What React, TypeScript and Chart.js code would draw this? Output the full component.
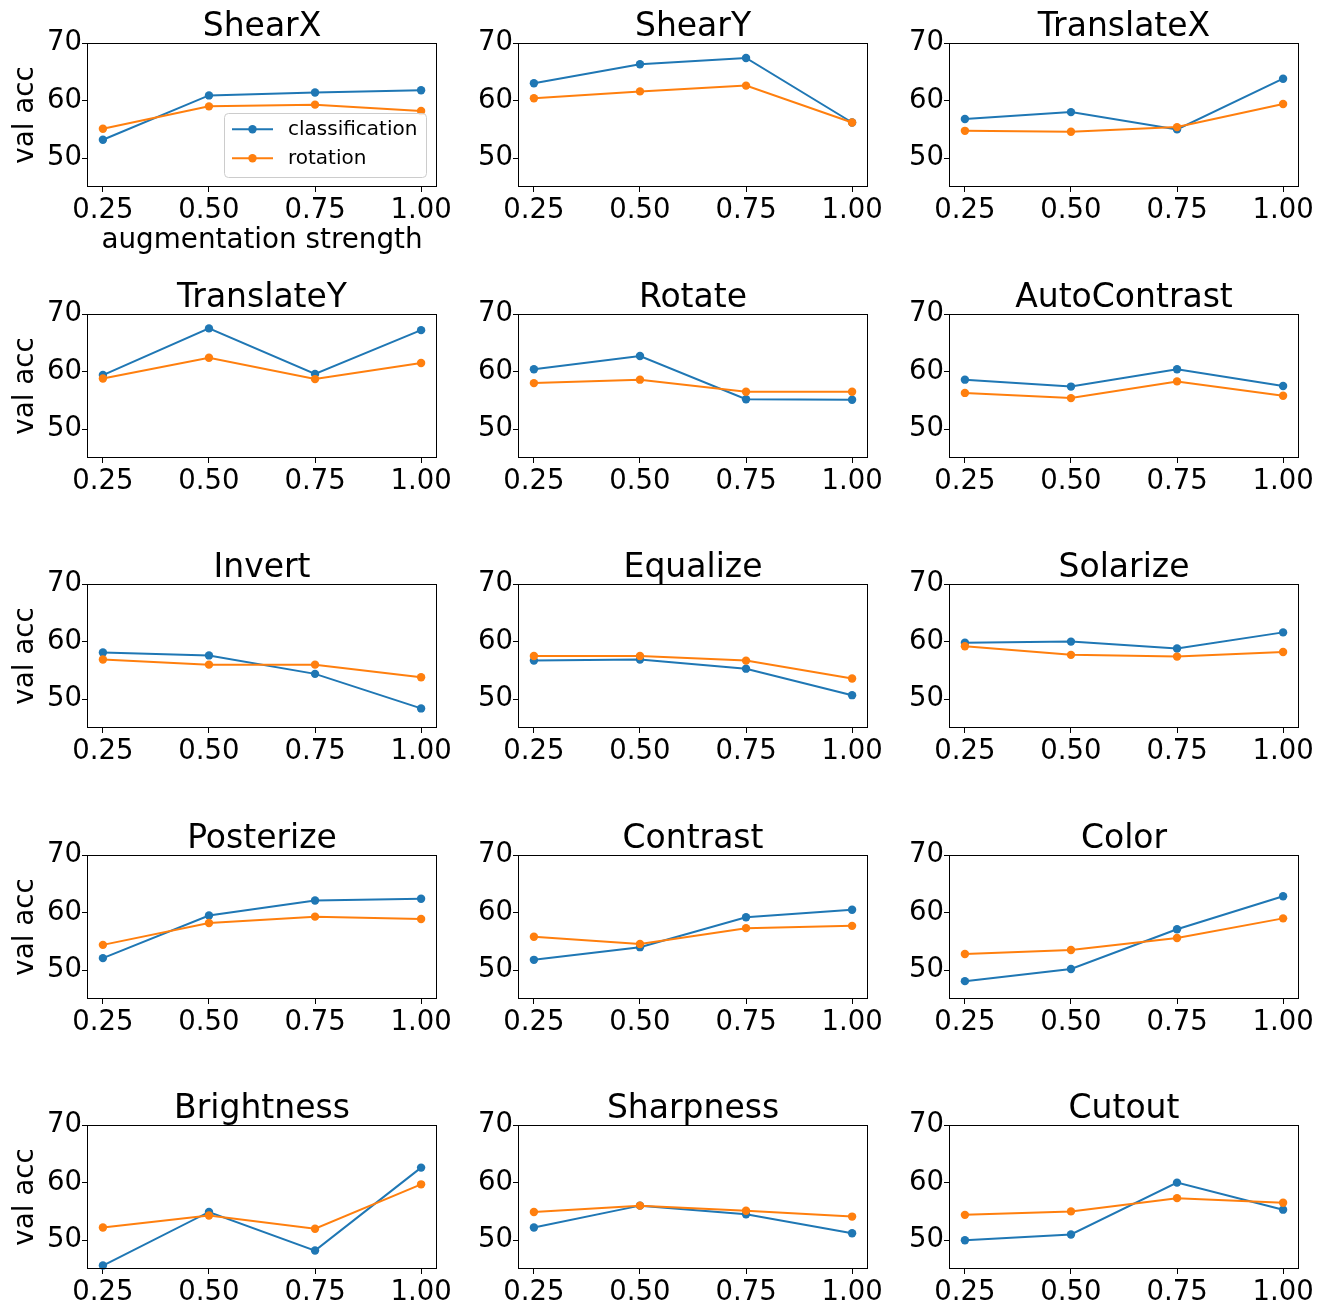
import React, { useEffect, useRef } from 'react';
import { Chart, registerables } from 'chart.js';

Chart.register(...registerables);

// ---------------- data ----------------
const augmentations = [
  'ShearX', 'ShearY', 'TranslateX',
  'TranslateY', 'Rotate', 'AutoContrast',
  'Invert', 'Equalize', 'Solarize',
  'Posterize', 'Contrast', 'Color',
  'Brightness', 'Sharpness', 'Cutout',
];

const strengths = [0.25, 0.5, 0.75, 1.0];
const xTickValues = [0.25, 0.5, 0.75, 1.0];
const yTickValues = [50, 60, 70];
const yMin = 45;
const yMax = 70;

const seriesNames = ['classification', 'rotation'];
const seriesColors = ['#1f77b4', '#ff7f0e'];

const classificationAcc = [
  [53.2, 60.9, 61.4, 61.8],
  [63.0, 66.3, 67.4, 56.2],
  [56.8, 58.0, 55.0, 63.8],
  [59.4, 67.5, 59.6, 67.2],
  [60.4, 62.7, 55.2, 55.1],
  [58.6, 57.4, 60.4, 57.5],
  [58.1, 57.6, 54.4, 48.4],
  [56.7, 56.9, 55.3, 50.7],
  [59.8, 60.0, 58.8, 61.6],
  [52.1, 59.5, 62.1, 62.4],
  [51.8, 54.0, 59.2, 60.5],
  [48.1, 50.2, 57.1, 62.85],
  [45.6, 54.9, 48.2, 62.6],
  [52.2, 56.0, 54.5, 51.2],
  [50.0, 51.0, 60.0, 55.3],
];

const rotationAcc = [
  [55.1, 59.0, 59.3, 58.2],
  [60.4, 61.6, 62.6, 56.2],
  [54.75, 54.6, 55.4, 59.4],
  [58.8, 62.4, 58.7, 61.5],
  [58.0, 58.6, 56.5, 56.5],
  [56.3, 55.4, 58.3, 55.8],
  [56.9, 56.0, 56.0, 53.8],
  [57.5, 57.5, 56.7, 53.6],
  [59.2, 57.7, 57.4, 58.2],
  [54.4, 58.2, 59.3, 58.9],
  [55.8, 54.55, 57.3, 57.7],
  [52.8, 53.5, 55.6, 59.0],
  [52.2, 54.3, 52.0, 59.7],
  [54.9, 56.0, 55.1, 54.1],
  [54.4, 55.0, 57.3, 56.5],
];

// ---------------- layout ----------------
const COL_LEFT = [87, 518, 949];
const ROW_TOP = [43, 314, 584, 855, 1125];
const PLOT_W = 350;
const PLOT_H = 144;
const Y_AXIS_W = 87;
const TITLE_H = 43;
const X_AXIS_H = 70;
const RIGHT_PAD = 20;
const FONT = "'DejaVu Sans', 'Liberation Sans', sans-serif";

const framePlugin = {
  id: 'frame',
  afterDraw(chart: any) {
    const { ctx, chartArea } = chart;
    const l = Math.round(chartArea.left);
    const t = Math.round(chartArea.top);
    const r = Math.round(chartArea.right);
    const b = Math.round(chartArea.bottom);
    ctx.save();
    ctx.strokeStyle = '#000';
    ctx.lineWidth = 1;
    ctx.strokeRect(l + 0.5, t + 0.5, r - l - 1, b - t - 1);
    ctx.restore();
  },
};

const legendPlugin = {
  id: 'innerLegend',
  afterDraw(chart: any) {
    const { ctx, chartArea } = chart;
    const w = 202;
    const h = 64;
    const x = Math.round(chartArea.right - 11 - w);
    const y = Math.round(chartArea.bottom - 10 - h);
    ctx.save();
    ctx.beginPath();
    if ((ctx as any).roundRect) (ctx as any).roundRect(x + 0.5, y + 0.5, w, h, 4);
    else ctx.rect(x + 0.5, y + 0.5, w, h);
    ctx.fillStyle = 'rgba(255,255,255,0.8)';
    ctx.fill();
    ctx.strokeStyle = '#cccccc';
    ctx.lineWidth = 1;
    ctx.stroke();
    const items = [...chart.data.datasets].sort((a: any, b: any) => a.legendIndex - b.legendIndex);
    items.forEach((ds: any, i: number) => {
      const cy = y + 16.3 + i * 29;
      ctx.strokeStyle = ds.borderColor;
      ctx.lineWidth = 2;
      ctx.beginPath();
      ctx.moveTo(x + 8, cy);
      ctx.lineTo(x + 49, cy);
      ctx.stroke();
      ctx.fillStyle = ds.borderColor;
      ctx.beginPath();
      ctx.arc(x + 28.5, cy, 4.2, 0, Math.PI * 2);
      ctx.fill();
      ctx.fillStyle = '#000';
      ctx.font = `20px ${FONT}`;
      ctx.textBaseline = 'middle';
      ctx.textAlign = 'left';
      ctx.fillText(ds.label, x + 64, cy);
    });
    ctx.restore();
  },
};

function SubPlot({ index }: { index: number }) {
  const ref = useRef<HTMLCanvasElement | null>(null);
  const row = Math.floor(index / 3);
  const col = index % 3;
  const left = COL_LEFT[col] - Y_AXIS_W;
  const top = ROW_TOP[row] - TITLE_H;
  const width = Y_AXIS_W + PLOT_W + RIGHT_PAD;
  const height = TITLE_H + PLOT_H + X_AXIS_H;

  useEffect(() => {
    if (!ref.current) return;
    const xSpan = strengths[strengths.length - 1] - strengths[0];
    const xMin = strengths[0] - 0.05 * xSpan;
    const xMax = strengths[strengths.length - 1] + 0.05 * xSpan;
    const series = [classificationAcc[index], rotationAcc[index]];
    const datasets = series.map((vals, s) => ({
      label: seriesNames[s],
      legendIndex: s,
      data: strengths.map((x, i) => ({ x, y: vals[i] })),
      borderColor: seriesColors[s],
      backgroundColor: seriesColors[s],
      pointBackgroundColor: seriesColors[s],
      pointBorderColor: seriesColors[s],
      pointBorderWidth: 0,
      pointRadius: 4.2,
      borderWidth: 2,
      tension: 0,
      fill: false,
      order: s === 0 ? 1 : 0,
      clip: false as any,
    }));

    const plugins: any[] = [framePlugin];
    if (index === 0) plugins.push(legendPlugin);

    const chart = new Chart(ref.current, {
      type: 'line',
      data: { datasets: datasets as any },
      plugins,
      options: {
        animation: false,
        responsive: false,
        devicePixelRatio: 1,
        layout: { padding: { left: 0, right: RIGHT_PAD, top: 0, bottom: 0 } },
        plugins: {
          legend: { display: false },
          tooltip: { enabled: false },
          title: {
            display: true,
            text: augmentations[index],
            fullSize: false,
            color: '#000',
            font: { family: FONT, size: 33, weight: 'normal', lineHeight: '32px' },
            padding: { top: 11, bottom: 0 },
          },
        },
        scales: {
          x: {
            type: 'linear',
            min: xMin,
            max: xMax,
            afterBuildTicks: (axis: any) => {
              axis.ticks = xTickValues.map((v) => ({ value: v }));
            },
            afterFit: (axis: any) => {
              axis.height = X_AXIS_H;
            },
            ticks: {
              color: '#000',
              font: { family: FONT, size: 27.5, lineHeight: 1.2 },
              padding: 2,
              maxRotation: 0,
              autoSkip: false,
              callback: (v: any) => Number(v).toFixed(2),
            },
            grid: {
              display: true,
              drawOnChartArea: false,
              drawTicks: true,
              tickLength: 5,
              color: '#000',
              tickColor: '#000',
            },
            border: { display: false },
            title: {
              display: index === 0,
              text: 'augmentation strength',
              color: '#000',
              font: { family: FONT, size: 27.8, lineHeight: 1.1 },
              padding: { top: 0, bottom: 1 },
            },
          },
          y: {
            type: 'linear',
            min: yMin,
            max: yMax,
            afterBuildTicks: (axis: any) => {
              axis.ticks = yTickValues.map((v) => ({ value: v }));
            },
            afterFit: (axis: any) => {
              axis.width = Y_AXIS_W;
            },
            ticks: {
              color: '#000',
              font: { family: FONT, size: 27.5 },
              padding: 0,
              autoSkip: false,
            },
            grid: {
              display: true,
              drawOnChartArea: false,
              drawTicks: true,
              tickLength: 5,
              color: '#000',
              tickColor: '#000',
            },
            border: { display: false },
            title: {
              display: col === 0,
              text: 'val acc',
              color: '#000',
              font: { family: FONT, size: 27.8, lineHeight: 1.2 },
              padding: { top: 8.6, bottom: 0 },
            },
          },
        },
      } as any,
    });
    return () => chart.destroy();
  }, [index]);

  return (
    <canvas
      ref={ref}
      width={width}
      height={height}
      style={{ position: 'absolute', left, top, width, height }}
    />
  );
}

export default function App() {
  return (
    <div
      style={{
        position: 'absolute',
        left: 0,
        top: 0,
        width: 1325,
        height: 1306,
        background: '#fff',
        overflow: 'hidden',
      }}
    >
      {augmentations.map((_, i) => (
        <SubPlot key={i} index={i} />
      ))}
    </div>
  );
}
